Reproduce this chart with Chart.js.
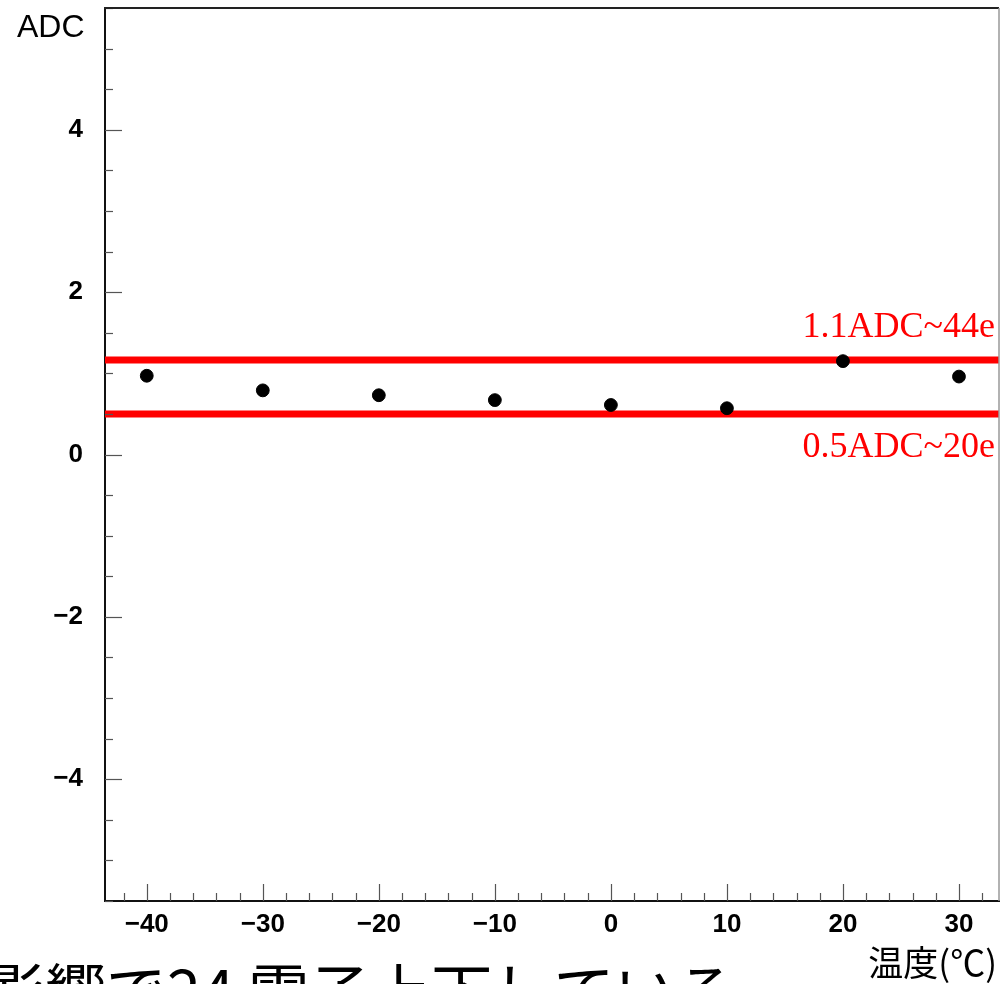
<!DOCTYPE html>
<html>
<head>
<meta charset="utf-8">
<script src="https://cdn.jsdelivr.net/npm/chart.js@4.4.1/dist/chart.umd.min.js"></script>
<style>
html,body{margin:0;padding:0;background:#fff;overflow:hidden;}
canvas{display:block;}
</style>
</head>
<body>
<canvas id="c" width="1000" height="984"></canvas>
<script>
// ---- data ----
const temperatures = [-40, -30, -20, -10, 0, 10, 20, 30];
const adcValues = [0.97, 0.79, 0.73, 0.67, 0.61, 0.57, 1.15, 0.96];
const thresholdValues = [1.163, 0.5];
const thresholdLabels = ['1.1ADC~44e', '0.5ADC~20e'];
const xMajorTicks = [-40, -30, -20, -10, 0, 10, 20, 30];
const xTickLabels = ['\u221240', '\u221230', '\u221220', '\u221210', '0', '10', '20', '30'];
const xMinorStep = 2;
const yMajorTicks = [-4, -2, 0, 2, 4];
const yTickLabels = ['\u22124', '\u22122', '0', '2', '4'];
const yMinorStep = 0.5;
const xRange = [-43.6, 33.45];
const yRange = [-5.5, 5.5];
const yAxisTitle = 'ADC';
const xAxisTitle = '温度(℃)';
const footerText = '影響で24 電子上下している';

function stepTicks(range, step) {
  const out = [];
  const start = Math.ceil(range[0] / step - 1e-9);
  const end = Math.floor(range[1] / step + 1e-9);
  for (let i = start; i <= end; i++) out.push({ value: +(i * step).toFixed(6) });
  return out;
}
function isMajor(list, v) { return list.some(m => Math.abs(m - v) < 1e-6); }

const framePlugin = {
  id: 'frame',
  afterDraw(chart) {
    const ctx = chart.ctx;
    const a = chart.chartArea;
    const xs = chart.scales.x, ys = chart.scales.y;
    ctx.save();
    // inner tick marks
    ctx.strokeStyle = '#555';
    ctx.lineWidth = 1.2;
    xs.ticks.forEach(t => {
      const px = Math.round(xs.getPixelForValue(t.value)) + 0.5;
      const len = isMajor(xMajorTicks, t.value) ? 17 : 8;
      ctx.beginPath(); ctx.moveTo(px, a.bottom); ctx.lineTo(px, a.bottom - len); ctx.stroke();
    });
    ys.ticks.forEach(t => {
      const py = Math.round(ys.getPixelForValue(t.value)) + 0.5;
      const len = isMajor(yMajorTicks, t.value) ? 17 : 8;
      ctx.beginPath(); ctx.moveTo(a.left, py); ctx.lineTo(a.left + len, py); ctx.stroke();
    });
    // top & right frame
    ctx.strokeStyle = '#222';
    ctx.lineWidth = 2;
    ctx.beginPath(); ctx.moveTo(a.left - 1, a.top); ctx.lineTo(a.right, a.top); ctx.stroke();
    ctx.strokeStyle = '#999';
    ctx.lineWidth = 1.5;
    ctx.beginPath(); ctx.moveTo(a.right, a.top); ctx.lineTo(a.right, a.bottom); ctx.stroke();

    // texts
    ctx.fillStyle = '#000';
    ctx.textAlign = 'left';
    ctx.textBaseline = 'alphabetic';
    ctx.font = '32px "Liberation Sans", Arial, sans-serif';
    ctx.fillText(yAxisTitle, 17, 37);

    ctx.fillStyle = '#ff0000';
    ctx.textAlign = 'right';
    ctx.font = '36px "Liberation Serif", "Times New Roman", serif';
    const y1 = ys.getPixelForValue(thresholdValues[0]);
    const y2 = ys.getPixelForValue(thresholdValues[1]);
    ctx.fillText(thresholdLabels[0], 995, y1 - 23);
    ctx.fillText(thresholdLabels[1], 995, y2 + 43);

    ctx.fillStyle = '#000';
    ctx.font = '35px "Noto Sans CJK JP", sans-serif';
    ctx.fillText(xAxisTitle, 997, 976);

    ctx.textAlign = 'left';
    ctx.font = '61px "Noto Sans CJK JP", sans-serif';
    ctx.fillText(footerText, -16, 1015);
    ctx.restore();
  }
};

const ctx = document.getElementById('c').getContext('2d');
new Chart(ctx, {
  type: 'scatter',
  data: {
    datasets: [
      {
        label: 'ADC',
        data: temperatures.map((t, i) => ({ x: t, y: adcValues[i] })),
        backgroundColor: '#000',
        borderColor: '#000',
        pointRadius: 6.4,
        pointHoverRadius: 6.4,
        showLine: false
      },
      ...thresholdValues.map((v, i) => ({
        type: 'line',
        label: thresholdLabels[i],
        data: [{ x: xRange[0], y: v }, { x: xRange[1], y: v }],
        borderColor: '#ff0000',
        backgroundColor: '#ff0000',
        borderWidth: 7,
        borderCapStyle: 'butt',
        pointRadius: 0,
        fill: false
      }))
    ]
  },
  options: {
    responsive: false,
    devicePixelRatio: 1,
    animation: false,
    events: [],
    layout: { autoPadding: false, padding: { left: 0, top: 8, right: 1, bottom: 0 } },
    plugins: { legend: { display: false }, tooltip: { enabled: false }, title: { display: false } },
    scales: {
      x: {
        type: 'linear',
        min: xRange[0],
        max: xRange[1],
        afterBuildTicks: s => { s.ticks = stepTicks(xRange, xMinorStep); },
        afterFit: s => { s.height = 83; s.paddingLeft = 0; s.paddingRight = 0; },
        grid: { display: false, drawTicks: false },
        border: { display: true, color: '#111', width: 2 },
        ticks: {
          autoSkip: false,
          maxRotation: 0,
          minRotation: 0,
          padding: 8,
          color: '#000',
          font: { family: '"Liberation Sans", Arial, sans-serif', size: 26, weight: 'bold' },
          callback: v => {
            const i = xMajorTicks.findIndex(m => Math.abs(m - v) < 1e-6);
            return i >= 0 ? xTickLabels[i] : '';
          }
        }
      },
      y: {
        type: 'linear',
        min: yRange[0],
        max: yRange[1],
        afterBuildTicks: s => { s.ticks = stepTicks(yRange, yMinorStep); },
        afterFit: s => { s.width = 105; s.paddingTop = 0; s.paddingBottom = 0; },
        grid: { display: false, drawTicks: false },
        border: { display: true, color: '#111', width: 2 },
        ticks: {
          autoSkip: false,
          padding: 22,
          color: '#000',
          font: { family: '"Liberation Sans", Arial, sans-serif', size: 26, weight: 'bold' },
          callback: v => {
            const i = yMajorTicks.findIndex(m => Math.abs(m - v) < 1e-6);
            return i >= 0 ? yTickLabels[i] : '';
          }
        }
      }
    }
  },
  plugins: [framePlugin]
});
</script>
</body>
</html>
